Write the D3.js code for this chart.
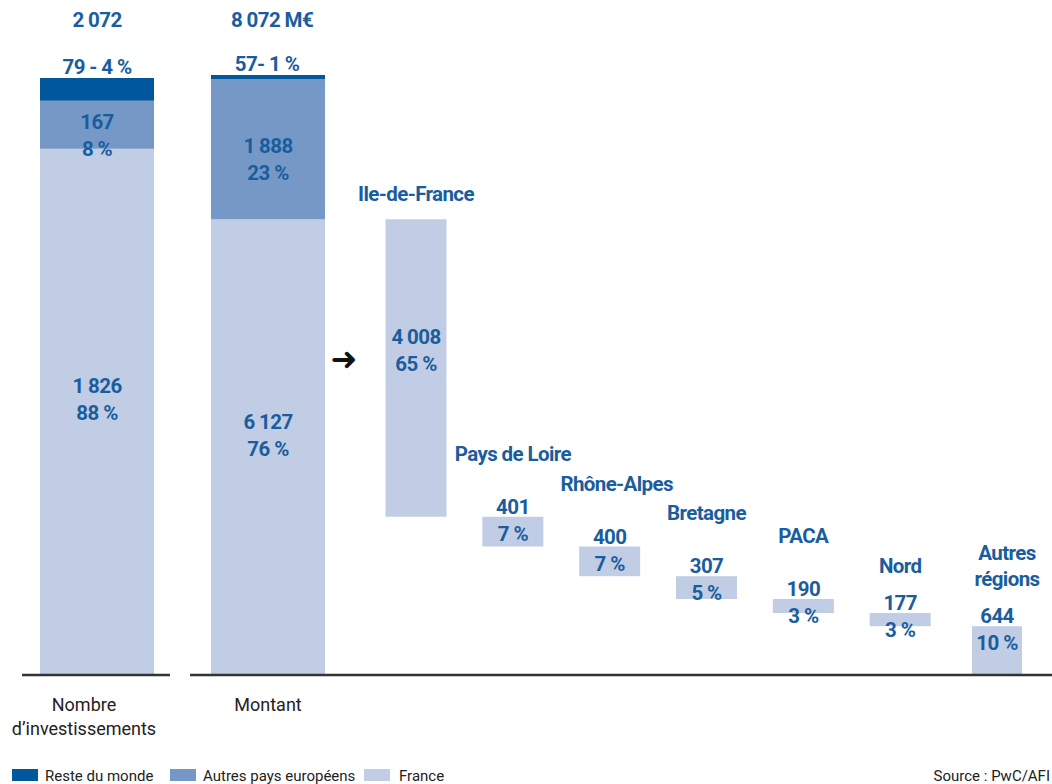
<!DOCTYPE html>
<html>
<head>
<meta charset="utf-8">
<script src="https://cdn.jsdelivr.net/npm/d3@7"></script>
<style>
  body { margin: 0; background: #fff; }
  svg text { font-family: Roboto, "Liberation Sans", sans-serif; }
  .lbl { font-size: 20.5px; font-weight: 700; letter-spacing: -0.6px; }
</style>
</head>
<body>
<div id="chart"></div>
<script>
// stacked bars: origin of investments
var barNames = ["Nombre\nd\u2019investissements", "Montant"];
var barTotals = ["2 072", "8 072 M\u20ac"];
var seriesKeys = ["France", "Autres pays europ\u00e9ens", "Reste du monde"];
var countValues = [1826, 167, 79];
var countPct = ["88 %", "8 %", "4 %"];
var amountValues = [6127, 1888, 57];
var amountPct = ["76 %", "23 %", "1 %"];

// regional breakdown of the French amount
var regions = ["Ile-de-France", "Pays de Loire", "Rh\u00f4ne-Alpes", "Bretagne", "PACA", "Nord", "Autres\nr\u00e9gions"];
var regionValues = [4008, 401, 400, 307, 190, 177, 644];
var regionPct = ["65 %", "7 %", "7 %", "5 %", "3 %", "3 %", "10 %"];

var width = 1052, height = 784;
var base = 674;
var blue = "#1a5d9e";
var color = d3.scaleOrdinal()
  .domain(seriesKeys)
  .range(["#c1cde5", "#7598c7", "#00579b"]);

var svg = d3.select("#chart")
  .append("svg")
  .attr("width", width)
  .attr("height", height);

var x = d3.scalePoint().domain(barNames).range([97, 268]);
var barW = 114;
var yCount = d3.scaleLinear().domain([0, d3.sum(countValues)]).range([base, 78]);
var yAmount = d3.scaleLinear().domain([0, d3.sum(amountValues)]).range([base, 75]);

function fmt(v) {
  return d3.format(",")(v).replace(/,/g, " ");
}

function stack(values, pct) {
  var acc = 0;
  return values.map(function (v, i) {
    var d = { key: seriesKeys[i], value: v, pct: pct[i], y0: acc, y1: acc + v };
    acc += v;
    return d;
  });
}

var bars = [
  { name: barNames[0], total: barTotals[0], y: yCount, segs: stack(countValues, countPct) },
  { name: barNames[1], total: barTotals[1], y: yAmount, segs: stack(amountValues, amountPct) }
];

bars.forEach(function (b, bi) {
  var cx = x(b.name);
  var g = svg.append("g").attr("class", "stacked");

  g.selectAll("rect")
    .data(b.segs)
    .enter().append("rect")
    .attr("x", cx - barW / 2)
    .attr("width", barW)
    .attr("y", function (d) { return b.y(d.y1); })
    .attr("height", function (d) { return b.y(d.y0) - b.y(d.y1); })
    .attr("fill", function (d) { return color(d.key); });

  // labels inside the two big segments
  b.segs.slice(0, 2).forEach(function (d) {
    var h = b.y(d.y0) - b.y(d.y1);
    var mid = (b.y(d.y0) + b.y(d.y1)) / 2;
    var first = h > 300 ? mid - 18 : mid + 4;
    var t = g.append("text")
      .attr("class", "lbl")
      .attr("text-anchor", "middle")
      .attr("fill", blue);
    t.append("tspan").attr("x", cx).attr("y", first).text(fmt(d.value));
    t.append("tspan").attr("x", cx).attr("y", first + 27).text(d.pct);
  });

  // small top segment, label above
  var top = b.segs[2];
  g.append("text")
    .attr("class", "lbl")
    .attr("x", bi === 0 ? cx : cx - 1)
    .attr("y", b.y(top.y1) - 4)
    .attr("text-anchor", "middle")
    .attr("fill", blue)
    .text(top.value + (bi === 0 ? " - " : "- ") + top.pct);

  g.append("text")
    .attr("class", "lbl")
    .attr("x", bi === 0 ? cx : cx + 4)
    .attr("y", 27)
    .attr("text-anchor", "middle")
    .attr("fill", blue)
    .text(b.total);

  var lab = g.append("text")
    .attr("text-anchor", "middle")
    .attr("fill", "#222")
    .style("font-size", "18px");
  b.name.split("\n").forEach(function (s, i) {
    lab.append("tspan").attr("x", bi === 0 ? cx - 13 : cx).attr("y", 711 + i * 24).text(s);
  });
});

// waterfall of regions, starting from the top of the French amount
var xr = d3.scalePoint().domain(regions).range([416, 997]);
var regW = 61;
var acc = amountValues[0];
var wf = regions.map(function (r, i) {
  var d = { name: r, value: regionValues[i], pct: regionPct[i], top: acc, bottom: acc - regionValues[i] };
  acc -= regionValues[i];
  return d;
});

var rg = svg.append("g").attr("class", "regions");

rg.selectAll("rect")
  .data(wf)
  .enter().append("rect")
  .attr("x", function (d, i) { return xr(d.name) - (i === wf.length - 1 ? 25 : regW / 2); })
  .attr("width", function (d, i) { return i === wf.length - 1 ? 50 : regW; })
  .attr("y", function (d) { return yAmount(d.top); })
  .attr("height", function (d) { return yAmount(d.bottom) - yAmount(d.top); })
  .attr("fill", color("France"));

wf.forEach(function (d, i) {
  var cx = xr(d.name);
  var yt = yAmount(d.top), yb = yAmount(d.bottom);
  var big = yb - yt > 100;
  var first = big ? (yt + yb) / 2 - 24 : yt - 3;
  var t = rg.append("text")
    .attr("class", "lbl")
    .attr("text-anchor", "middle")
    .attr("fill", blue);
  t.append("tspan").attr("x", cx).attr("y", first).text(fmt(d.value));
  t.append("tspan").attr("x", cx).attr("y", first + 27).text(d.pct);

  var lines = d.name.split("\n");
  var nameY = big ? yt - 18 : yt - 40 - (lines.length - 1) * 26;
  if (!big && lines.length === 1 && i < 5) nameY = yt - 56;
  var n = rg.append("text")
    .attr("class", "lbl")
    .attr("text-anchor", "middle")
    .attr("fill", blue);
  lines.forEach(function (s, k) {
    n.append("tspan").attr("x", cx + (i === 2 ? 7 : i === 6 ? 10 : 0)).attr("y", nameY + k * 26).text(s);
  });
});

// arrow between amount bar and regions
svg.append("text")
  .attr("x", 344)
  .attr("y", 370)
  .attr("text-anchor", "middle")
  .attr("fill", "#111")
  .style("font-size", "32px")
  .style("font-family", "DejaVu Sans")
  .style("font-weight", "bold")
  .text("\u279c");

// baselines
svg.append("line")
  .attr("x1", 22).attr("x2", 170)
  .attr("y1", base + 1).attr("y2", base + 1)
  .attr("stroke", "#333").attr("stroke-width", 2.5);
svg.append("line")
  .attr("x1", 190).attr("x2", width)
  .attr("y1", base + 1).attr("y2", base + 1)
  .attr("stroke", "#333").attr("stroke-width", 2.5);

// legend
var legX = [12, 170, 364];
var legKeys = seriesKeys.slice().reverse();
var legend = svg.selectAll(".legend")
  .data(legKeys)
  .enter().append("g")
  .attr("class", "legend")
  .attr("transform", function (d, i) { return "translate(" + legX[i] + ",769)"; });

legend.append("rect")
  .attr("width", 26)
  .attr("height", 12)
  .attr("fill", function (d) { return color(d); });

legend.append("text")
  .attr("x", function (d, i) { return i === 2 ? 35 : 33; })
  .attr("y", 12)
  .attr("fill", "#222")
  .style("font-size", "15px")
  .text(function (d) { return d; });

svg.append("text")
  .attr("x", 1050)
  .attr("y", 781)
  .attr("text-anchor", "end")
  .attr("fill", "#222")
  .style("font-size", "15px")
  .text("Source : PwC/AFI");
</script>
</body>
</html>
